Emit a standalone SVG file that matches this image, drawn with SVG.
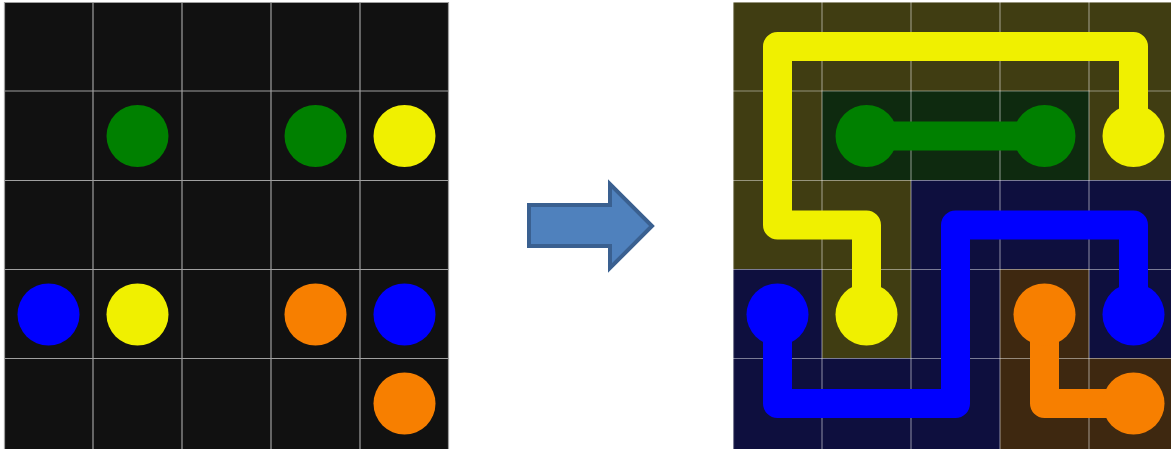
<svg xmlns="http://www.w3.org/2000/svg" width="1171" height="449" viewBox="0 0 1171 449">
  <style>
    .bg{fill:#111111}
    .gl{stroke:#a0a0a0;stroke-width:1.2}
    .gr{stroke:#ffffff;stroke-opacity:0.45;stroke-width:1.2}
    .ty{fill:#403d12}
    .tg{fill:#0e2a0f}
    .tb{fill:#0e0f3e}
    .to{fill:#3e2810}
    .p{fill:none;stroke-width:29;stroke-linejoin:round;stroke-linecap:round}
    .y{fill:#f0f000}
    .g{fill:#008000}
    .b{fill:#0000ff}
    .o{fill:#f77f00}
  </style>
  <rect width="1171" height="449" fill="#ffffff"/>

  <g id="left-grid">
    <rect class="bg" x="4" y="2" width="445" height="447"/>
    <g class="gl">
      <line x1="4" y1="2.5" x2="449" y2="2.5"/>
      <line x1="4" y1="91" x2="449" y2="91"/>
      <line x1="4" y1="180.5" x2="449" y2="180.5"/>
      <line x1="4" y1="269.5" x2="449" y2="269.5"/>
      <line x1="4" y1="358.5" x2="449" y2="358.5"/>
      <line x1="4.5" y1="2" x2="4.5" y2="449"/>
      <line x1="93" y1="2" x2="93" y2="449"/>
      <line x1="182" y1="2" x2="182" y2="449"/>
      <line x1="271" y1="2" x2="271" y2="449"/>
      <line x1="360" y1="2" x2="360" y2="449"/>
      <line x1="448.5" y1="2" x2="448.5" y2="449"/>
    </g>
  </g>
  <g id="left-dots">
    <circle class="g" cx="137.5" cy="136" r="31"/>
    <circle class="g" cx="315.5" cy="136" r="31"/>
    <circle class="y" cx="404.5" cy="136" r="31"/>
    <circle class="b" cx="48.5" cy="314.5" r="31"/>
    <circle class="y" cx="137.5" cy="314.5" r="31"/>
    <circle class="o" cx="315.5" cy="314.5" r="31"/>
    <circle class="b" cx="404.5" cy="314.5" r="31"/>
    <circle class="o" cx="404.5" cy="403.5" r="31"/>
  </g>

  <g id="arrow">
    <path d="M529,205 H610 V184 L652,226 L610,268 V246 H529 Z" fill="#4f81bd" stroke="#3a6090" stroke-width="4" stroke-linejoin="miter"/>
  </g>

  <g id="right-grid">
    <rect class="bg" x="733" y="2" width="438" height="447"/>
    <rect class="ty" x="733" y="2" width="445" height="89"/>
    <rect class="ty" x="733" y="91" width="89" height="89"/>
    <rect class="tg" x="822" y="91" width="267" height="89"/>
    <rect class="ty" x="1089" y="91" width="89" height="89"/>
    <rect class="ty" x="733" y="180" width="178" height="89"/>
    <rect class="tb" x="911" y="180" width="267" height="89"/>
    <rect class="tb" x="733" y="269" width="89" height="89"/>
    <rect class="ty" x="822" y="269" width="89" height="89"/>
    <rect class="tb" x="911" y="269" width="89" height="89"/>
    <rect class="to" x="1000" y="269" width="89" height="89"/>
    <rect class="tb" x="1089" y="269" width="89" height="89"/>
    <rect class="tb" x="733" y="358" width="267" height="91"/>
    <rect class="to" x="1000" y="358" width="178" height="91"/>
    <g class="gr">
      <line x1="733" y1="2.5" x2="1171" y2="2.5"/>
      <line x1="733" y1="91" x2="1171" y2="91"/>
      <line x1="733" y1="180.5" x2="1171" y2="180.5"/>
      <line x1="733" y1="269.5" x2="1171" y2="269.5"/>
      <line x1="733" y1="358.5" x2="1171" y2="358.5"/>
      <line x1="733.5" y1="2" x2="733.5" y2="449"/>
      <line x1="822" y1="2" x2="822" y2="449"/>
      <line x1="911" y1="2" x2="911" y2="449"/>
      <line x1="1000" y1="2" x2="1000" y2="449"/>
      <line x1="1089" y1="2" x2="1089" y2="449"/>
    </g>
  </g>

  <g id="connectors">
    <path class="p" stroke="#f0f000" d="M1133.5,136 V46.5 H777.5 V225 H866.5 V314.5"/>
    <path class="p" stroke="#008000" d="M866.5,136 H1044.5"/>
    <path class="p" stroke="#0000ff" d="M777.5,314.5 V403.5 H955.5 V225 H1133.5 V314.5"/>
    <path class="p" stroke="#f77f00" d="M1044.5,314.5 V403.5 H1133.5"/>
  </g>

  <g id="right-dots">
    <circle class="y" cx="1133.5" cy="136" r="31"/>
    <circle class="y" cx="866.5" cy="314.5" r="31"/>
    <circle class="g" cx="866.5" cy="136" r="31"/>
    <circle class="g" cx="1044.5" cy="136" r="31"/>
    <circle class="b" cx="777.5" cy="314.5" r="31"/>
    <circle class="b" cx="1133.5" cy="314.5" r="31"/>
    <circle class="o" cx="1044.5" cy="314.5" r="31"/>
    <circle class="o" cx="1133.5" cy="403.5" r="31"/>
  </g>
</svg>
